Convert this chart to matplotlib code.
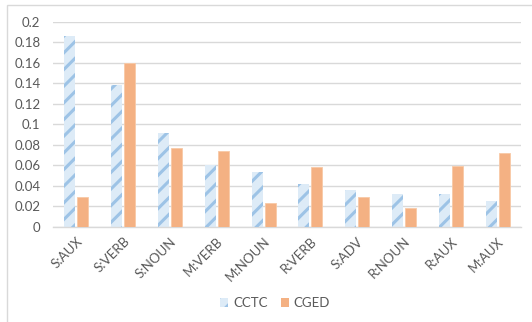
import numpy as np
import matplotlib.pyplot as plt
from matplotlib.patches import Rectangle

categories = ["S:AUX", "S:VERB", "S:NOUN", "M:VERB", "M:NOUN",
              "R:VERB", "S:ADV", "R:NOUN", "R:AUX", "M:AUX"]
cctc = [0.1866, 0.1384, 0.0918, 0.0603, 0.0537, 0.0417, 0.0358, 0.0320, 0.0319, 0.0251]
cged = [0.0290, 0.1600, 0.0766, 0.0740, 0.0232, 0.0583, 0.0286, 0.0186, 0.0596, 0.0720]
yticks = [0, 0.02, 0.04, 0.06, 0.08, 0.1, 0.12, 0.14, 0.16, 0.18, 0.2]
ytick_labels = ["0", "0.02", "0.04", "0.06", "0.08", "0.1", "0.12", "0.14", "0.16", "0.18", "0.2"]

plt.rcParams["font.family"] = ["Lato", "DejaVu Sans"]
plt.rcParams["hatch.linewidth"] = 2.2

text_col = "#595959"
blue_face = "#DDEBF7"
blue_hatch = "#9DC3E6"
orange = "#F4B183"

fig = plt.figure(figsize=(5.32, 3.22), dpi=100)
ax = fig.add_axes([53 / 532, 1 - 226.7 / 322, 468 / 532, (226.7 - 22) / 322])

x = np.arange(len(categories))
w = 0.235
gap = 0.02
xc = x - w / 2 - gap
xg = x + w / 2 + gap

# hatched CCTC bars: light fill first, then the stripes on top
ax.bar(xc, cctc, width=w, color=blue_face, edgecolor="none", zorder=2)
ax.bar(xc, cctc, width=w, facecolor="none", edgecolor=blue_hatch,
       linewidth=0, hatch="//", zorder=3)
ax.bar(xg, cged, width=w, color=orange, edgecolor="#F8C9A6", linewidth=0.6, zorder=3)

ax.set_xlim(-0.5, len(categories) - 0.5)
ax.set_ylim(0, 0.2)
ax.set_yticks(yticks)
ax.set_yticklabels(ytick_labels)
ax.set_xticks(x)
ax.set_xticklabels(categories, rotation=45, ha="right", rotation_mode="anchor")

ax.yaxis.grid(True, color="#D9D9D9", linewidth=1.0, zorder=0)
ax.set_axisbelow(True)
for side in ["left", "right", "top"]:
    ax.spines[side].set_visible(False)
ax.spines["bottom"].set_color("#D9D9D9")
ax.spines["bottom"].set_linewidth(1.0)
ax.tick_params(axis="both", length=0, labelsize=9.5, colors=text_col, pad=9)
ax.tick_params(axis="x", pad=6)

# legend with a small hatched patch for CCTC
h1 = Rectangle((0, 0), 1, 1, facecolor=blue_face, edgecolor=blue_hatch, linewidth=0, hatch="//")
h2 = Rectangle((0, 0), 1, 1, facecolor=orange, edgecolor="none")
leg = fig.legend([h1, h2], ["CCTC", "CGED"], loc="center",
                 bbox_to_anchor=(275 / 532, 1 - 303 / 322), ncol=2, frameon=False,
                 fontsize=9.5, handlelength=0.6, handleheight=0.6,
                 handletextpad=0.4, columnspacing=1.0)
for t in leg.get_texts():
    t.set_color(text_col)

# chart area border
fig.patches.append(Rectangle((7 / 532, -0.1), 1.2, 1 - 5 / 322 + 0.1,
                             transform=fig.transFigure, fill=False,
                             edgecolor="#D9D9D9", linewidth=1.0))

fig.savefig("out.png", dpi=100)
